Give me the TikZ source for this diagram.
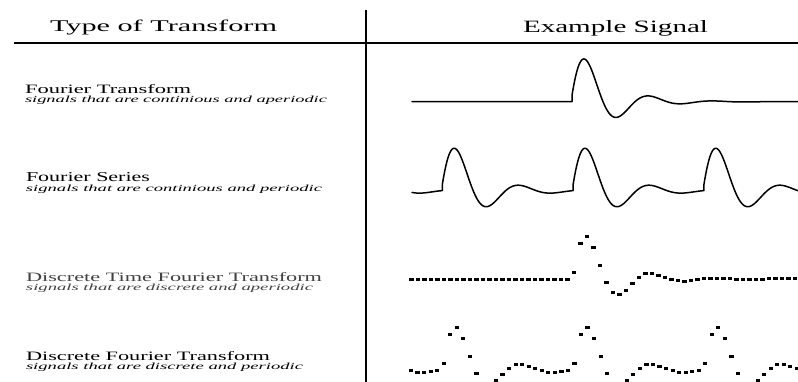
\documentclass[tikz,border=0pt]{standalone}
\usepackage{fontspec}
\setmainfont{Liberation Serif}
\usepackage{graphicx}
\begin{document}
\begin{tikzpicture}[x=1pt,y=-1pt,
  declare function={pulse(\t)=(\t>=0)*65*exp(-\t/32)*sin(5.625*(\t+1));},
  txt/.style={anchor=base west,inner sep=0pt,outer sep=0pt},
  rule/.style={line width=1.2pt,black},
  wave/.style={line width=1.5pt,black,line join=round,line cap=round},
  dot/.style={fill=black}]
\useasboundingbox (0,0) rectangle (798,382);
\clip (0,0) rectangle (798,382);
% grid lines
\coordinate (hl) at (14,43);
\coordinate (hr) at (798,43);
\coordinate (vt) at (366,10);
\coordinate (vb) at (366,382);
\draw[rule] (hl) -- (hr);
\draw[rule] (vt) -- (vb);
% headers
\node[txt] (h1) at (50,32) {\resizebox{227pt}{11.5pt}{Type of Transform}};
\node[txt] (h2) at (523,32.5) {\resizebox{185pt}{12pt}{Example Signal}};
% row labels
\node[txt] (ft) at (25,93.5) {\resizebox{166pt}{9pt}{Fourier Transform}};
\node[txt] (fts) at (25,103) {\resizebox{302pt}{6.5pt}{\itshape signals that are continious and aperiodic}};
\node[txt] (fs) at (26,182) {\resizebox{124pt}{9pt}{Fourier Series}};
\node[txt] (fss) at (26,191.5) {\resizebox{296pt}{6.5pt}{\itshape signals that are continious and periodic}};
\node[txt,black!75] (dt) at (26,281) {\resizebox{296pt}{9pt}{Discrete Time Fourier Transform}};
\node[txt,black!75] (dts) at (26,290.5) {\resizebox{287pt}{6.5pt}{\itshape signals that are discrete and aperiodic}};
\node[txt] (df) at (26,360) {\resizebox{244pt}{9pt}{Discrete Fourier Transform}};
\node[txt] (dfs) at (26,369.5) {\resizebox{277pt}{6.5pt}{\itshape signals that are discrete and periodic}};
% Fourier transform signal
\draw[wave] (412,101.7) -- (572,101.7) -- plot[domain=0:226,samples=260] ({572+\x},{101.7-pulse(\x)});
% Fourier series signal
\draw[wave] plot[domain=100.5:130.8,samples=30] ({\x+442.3-130.8},{191-pulse(\x)})
  -- plot[domain=0:130.8,samples=160] ({442.3+\x},{191-pulse(\x)})
  -- plot[domain=0:130.8,samples=160] ({573.1+\x},{191-pulse(\x)})
  -- plot[domain=0:94.1,samples=120] ({703.9+\x},{191-pulse(\x)});
% DTFT samples
\foreach \n in {0,...,59}{
  \pgfmathsetmacro\xx{411.5+6.5*\n}
  \pgfmathsetmacro\yy{279-pulse(6.5*(\n-25))}
  \fill[dot] ({\xx-2.1},{\yy-1.5}) rectangle ++(4.2,3);
}
% DFT samples
\foreach \n in {0,...,59}{
  \pgfmathsetmacro\xx{411+6.54*\n}
  \pgfmathsetmacro\yy{370-pulse(6.54*Mod(\n-5,20))}
  \fill[dot] ({\xx-2.1},{\yy-1.5}) rectangle ++(4.2,3);
}
\end{tikzpicture}
\end{document}
